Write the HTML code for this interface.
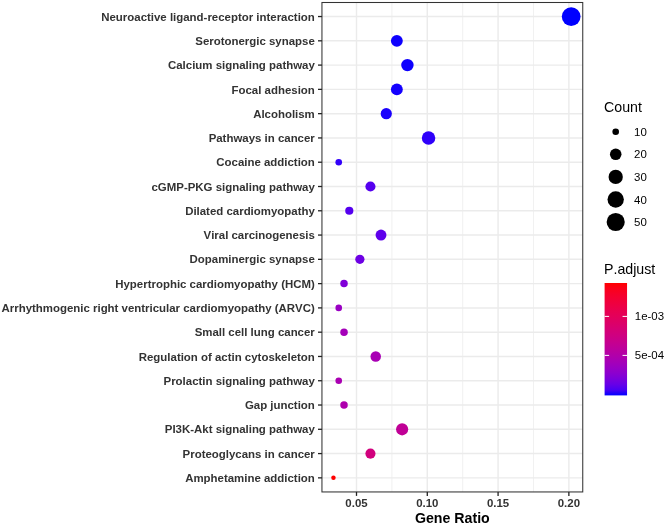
<!DOCTYPE html><html><head><meta charset="utf-8"><style>html,body{margin:0;padding:0;background:#fff;width:666px;height:525px;overflow:hidden}svg{display:block;will-change:transform}text{font-family:"Liberation Sans",sans-serif;font-kerning:none;font-feature-settings:"kern" 0,"liga" 0}</style></head><body>
<svg width="666" height="525" viewBox="0 0 666 525">
<rect width="666" height="525" fill="#fff"/>
<line x1="391.89" y1="2.5" x2="391.89" y2="491.95" stroke="#ebebeb" stroke-width="0.75"/>
<line x1="462.69" y1="2.5" x2="462.69" y2="491.95" stroke="#ebebeb" stroke-width="0.75"/>
<line x1="533.47" y1="2.5" x2="533.47" y2="491.95" stroke="#ebebeb" stroke-width="0.75"/>
<line x1="356.50" y1="2.5" x2="356.50" y2="491.95" stroke="#ebebeb" stroke-width="1.45"/>
<line x1="427.29" y1="2.5" x2="427.29" y2="491.95" stroke="#ebebeb" stroke-width="1.45"/>
<line x1="498.08" y1="2.5" x2="498.08" y2="491.95" stroke="#ebebeb" stroke-width="1.45"/>
<line x1="568.87" y1="2.5" x2="568.87" y2="491.95" stroke="#ebebeb" stroke-width="1.45"/>
<line x1="321.95" y1="16.54" x2="582.75" y2="16.54" stroke="#ebebeb" stroke-width="1.45"/>
<line x1="321.95" y1="40.82" x2="582.75" y2="40.82" stroke="#ebebeb" stroke-width="1.45"/>
<line x1="321.95" y1="65.10" x2="582.75" y2="65.10" stroke="#ebebeb" stroke-width="1.45"/>
<line x1="321.95" y1="89.38" x2="582.75" y2="89.38" stroke="#ebebeb" stroke-width="1.45"/>
<line x1="321.95" y1="113.66" x2="582.75" y2="113.66" stroke="#ebebeb" stroke-width="1.45"/>
<line x1="321.95" y1="137.94" x2="582.75" y2="137.94" stroke="#ebebeb" stroke-width="1.45"/>
<line x1="321.95" y1="162.22" x2="582.75" y2="162.22" stroke="#ebebeb" stroke-width="1.45"/>
<line x1="321.95" y1="186.50" x2="582.75" y2="186.50" stroke="#ebebeb" stroke-width="1.45"/>
<line x1="321.95" y1="210.78" x2="582.75" y2="210.78" stroke="#ebebeb" stroke-width="1.45"/>
<line x1="321.95" y1="235.06" x2="582.75" y2="235.06" stroke="#ebebeb" stroke-width="1.45"/>
<line x1="321.95" y1="259.34" x2="582.75" y2="259.34" stroke="#ebebeb" stroke-width="1.45"/>
<line x1="321.95" y1="283.62" x2="582.75" y2="283.62" stroke="#ebebeb" stroke-width="1.45"/>
<line x1="321.95" y1="307.90" x2="582.75" y2="307.90" stroke="#ebebeb" stroke-width="1.45"/>
<line x1="321.95" y1="332.18" x2="582.75" y2="332.18" stroke="#ebebeb" stroke-width="1.45"/>
<line x1="321.95" y1="356.46" x2="582.75" y2="356.46" stroke="#ebebeb" stroke-width="1.45"/>
<line x1="321.95" y1="380.74" x2="582.75" y2="380.74" stroke="#ebebeb" stroke-width="1.45"/>
<line x1="321.95" y1="405.02" x2="582.75" y2="405.02" stroke="#ebebeb" stroke-width="1.45"/>
<line x1="321.95" y1="429.30" x2="582.75" y2="429.30" stroke="#ebebeb" stroke-width="1.45"/>
<line x1="321.95" y1="453.58" x2="582.75" y2="453.58" stroke="#ebebeb" stroke-width="1.45"/>
<line x1="321.95" y1="477.86" x2="582.75" y2="477.86" stroke="#ebebeb" stroke-width="1.45"/>
<circle cx="571.18" cy="16.54" r="9.38" fill="#0000ff"/>
<circle cx="396.85" cy="40.82" r="5.93" fill="#0e00fe"/>
<circle cx="407.42" cy="65.10" r="6.22" fill="#0e00fe"/>
<circle cx="396.85" cy="89.38" r="5.93" fill="#1400fe"/>
<circle cx="386.28" cy="113.66" r="5.61" fill="#1a00fd"/>
<circle cx="428.55" cy="137.94" r="6.76" fill="#2f00fa"/>
<circle cx="338.74" cy="162.22" r="3.31" fill="#3200fa"/>
<circle cx="370.44" cy="186.50" r="5.06" fill="#5500ef"/>
<circle cx="349.30" cy="210.78" r="4.09" fill="#5500ef"/>
<circle cx="381.00" cy="235.06" r="5.44" fill="#5e00eb"/>
<circle cx="359.87" cy="259.34" r="4.62" fill="#6d00e4"/>
<circle cx="344.02" cy="283.62" r="3.75" fill="#8000d8"/>
<circle cx="338.74" cy="307.90" r="3.31" fill="#9a00c3"/>
<circle cx="344.02" cy="332.18" r="3.75" fill="#a400b9"/>
<circle cx="375.72" cy="356.46" r="5.25" fill="#a800b4"/>
<circle cx="338.74" cy="380.74" r="3.31" fill="#aa00b2"/>
<circle cx="344.02" cy="405.02" r="3.75" fill="#ae00ad"/>
<circle cx="402.13" cy="429.30" r="6.08" fill="#c00096"/>
<circle cx="370.44" cy="453.58" r="5.06" fill="#d1007d"/>
<circle cx="333.46" cy="477.86" r="2.25" fill="#ff0000"/>
<rect x="321.95" y="2.5" width="260.80" height="489.45" fill="none" stroke="#333" stroke-width="1.05"/>
<line x1="318.0" y1="16.54" x2="321.95" y2="16.54" stroke="#222" stroke-width="1.3"/>
<text transform="translate(314.8 20.69) scale(1 1.0)" text-anchor="end" font-size="11.45" font-weight="bold" fill="#333333">Neuroactive ligand-receptor interaction</text>
<line x1="318.0" y1="40.82" x2="321.95" y2="40.82" stroke="#222" stroke-width="1.3"/>
<text transform="translate(314.8 44.97) scale(1 1.0)" text-anchor="end" font-size="11.45" font-weight="bold" fill="#333333">Serotonergic synapse</text>
<line x1="318.0" y1="65.10" x2="321.95" y2="65.10" stroke="#222" stroke-width="1.3"/>
<text transform="translate(314.8 69.25) scale(1 1.0)" text-anchor="end" font-size="11.45" font-weight="bold" fill="#333333">Calcium signaling pathway</text>
<line x1="318.0" y1="89.38" x2="321.95" y2="89.38" stroke="#222" stroke-width="1.3"/>
<text transform="translate(314.8 93.53) scale(1 1.0)" text-anchor="end" font-size="11.45" font-weight="bold" fill="#333333">Focal adhesion</text>
<line x1="318.0" y1="113.66" x2="321.95" y2="113.66" stroke="#222" stroke-width="1.3"/>
<text transform="translate(314.8 117.81) scale(1 1.0)" text-anchor="end" font-size="11.45" font-weight="bold" fill="#333333">Alcoholism</text>
<line x1="318.0" y1="137.94" x2="321.95" y2="137.94" stroke="#222" stroke-width="1.3"/>
<text transform="translate(314.8 142.09) scale(1 1.0)" text-anchor="end" font-size="11.45" font-weight="bold" fill="#333333">Pathways in cancer</text>
<line x1="318.0" y1="162.22" x2="321.95" y2="162.22" stroke="#222" stroke-width="1.3"/>
<text transform="translate(314.8 166.37) scale(1 1.0)" text-anchor="end" font-size="11.45" font-weight="bold" fill="#333333">Cocaine addiction</text>
<line x1="318.0" y1="186.50" x2="321.95" y2="186.50" stroke="#222" stroke-width="1.3"/>
<text transform="translate(314.8 190.65) scale(1 1.0)" text-anchor="end" font-size="11.45" font-weight="bold" fill="#333333">cGMP-PKG signaling pathway</text>
<line x1="318.0" y1="210.78" x2="321.95" y2="210.78" stroke="#222" stroke-width="1.3"/>
<text transform="translate(314.8 214.93) scale(1 1.0)" text-anchor="end" font-size="11.45" font-weight="bold" fill="#333333">Dilated cardiomyopathy</text>
<line x1="318.0" y1="235.06" x2="321.95" y2="235.06" stroke="#222" stroke-width="1.3"/>
<text transform="translate(314.8 239.21) scale(1 1.0)" text-anchor="end" font-size="11.45" font-weight="bold" fill="#333333">Viral carcinogenesis</text>
<line x1="318.0" y1="259.34" x2="321.95" y2="259.34" stroke="#222" stroke-width="1.3"/>
<text transform="translate(314.8 263.49) scale(1 1.0)" text-anchor="end" font-size="11.45" font-weight="bold" fill="#333333">Dopaminergic synapse</text>
<line x1="318.0" y1="283.62" x2="321.95" y2="283.62" stroke="#222" stroke-width="1.3"/>
<text transform="translate(314.8 287.77) scale(1 1.0)" text-anchor="end" font-size="11.45" font-weight="bold" fill="#333333">Hypertrophic cardiomyopathy (HCM)</text>
<line x1="318.0" y1="307.90" x2="321.95" y2="307.90" stroke="#222" stroke-width="1.3"/>
<text transform="translate(314.8 312.05) scale(1 1.0)" text-anchor="end" font-size="11.45" font-weight="bold" fill="#333333">Arrhythmogenic right ventricular cardiomyopathy (ARVC)</text>
<line x1="318.0" y1="332.18" x2="321.95" y2="332.18" stroke="#222" stroke-width="1.3"/>
<text transform="translate(314.8 336.33) scale(1 1.0)" text-anchor="end" font-size="11.45" font-weight="bold" fill="#333333">Small cell lung cancer</text>
<line x1="318.0" y1="356.46" x2="321.95" y2="356.46" stroke="#222" stroke-width="1.3"/>
<text transform="translate(314.8 360.61) scale(1 1.0)" text-anchor="end" font-size="11.45" font-weight="bold" fill="#333333">Regulation of actin cytoskeleton</text>
<line x1="318.0" y1="380.74" x2="321.95" y2="380.74" stroke="#222" stroke-width="1.3"/>
<text transform="translate(314.8 384.89) scale(1 1.0)" text-anchor="end" font-size="11.45" font-weight="bold" fill="#333333">Prolactin signaling pathway</text>
<line x1="318.0" y1="405.02" x2="321.95" y2="405.02" stroke="#222" stroke-width="1.3"/>
<text transform="translate(314.8 409.17) scale(1 1.0)" text-anchor="end" font-size="11.45" font-weight="bold" fill="#333333">Gap junction</text>
<line x1="318.0" y1="429.30" x2="321.95" y2="429.30" stroke="#222" stroke-width="1.3"/>
<text transform="translate(314.8 433.45) scale(1 1.0)" text-anchor="end" font-size="11.45" font-weight="bold" fill="#333333">PI3K-Akt signaling pathway</text>
<line x1="318.0" y1="453.58" x2="321.95" y2="453.58" stroke="#222" stroke-width="1.3"/>
<text transform="translate(314.8 457.73) scale(1 1.0)" text-anchor="end" font-size="11.45" font-weight="bold" fill="#333333">Proteoglycans in cancer</text>
<line x1="318.0" y1="477.86" x2="321.95" y2="477.86" stroke="#222" stroke-width="1.3"/>
<text transform="translate(314.8 482.01) scale(1 1.0)" text-anchor="end" font-size="11.45" font-weight="bold" fill="#333333">Amphetamine addiction</text>
<line x1="356.50" y1="491.95" x2="356.50" y2="495.9" stroke="#222" stroke-width="1.3"/>
<text x="356.50" y="507" text-anchor="middle" font-size="11.45" font-weight="bold" fill="#333333">0.05</text>
<line x1="427.29" y1="491.95" x2="427.29" y2="495.9" stroke="#222" stroke-width="1.3"/>
<text x="427.29" y="507" text-anchor="middle" font-size="11.45" font-weight="bold" fill="#333333">0.10</text>
<line x1="498.08" y1="491.95" x2="498.08" y2="495.9" stroke="#222" stroke-width="1.3"/>
<text x="498.08" y="507" text-anchor="middle" font-size="11.45" font-weight="bold" fill="#333333">0.15</text>
<line x1="568.87" y1="491.95" x2="568.87" y2="495.9" stroke="#222" stroke-width="1.3"/>
<text x="568.87" y="507" text-anchor="middle" font-size="11.45" font-weight="bold" fill="#333333">0.20</text>
<text x="452.35" y="522.6" text-anchor="middle" font-size="14.2" font-weight="bold" fill="#000">Gene Ratio</text>
<text x="604.0" y="111.6" font-size="14.2" fill="#000">Count</text>
<circle cx="615.7" cy="131.7" r="3.31" fill="#000"/>
<text x="634.1" y="135.80" font-size="11.45" fill="#000">10</text>
<circle cx="615.7" cy="154.3" r="5.77" fill="#000"/>
<text x="634.1" y="158.40" font-size="11.45" fill="#000">20</text>
<circle cx="615.7" cy="176.9" r="7.12" fill="#000"/>
<text x="634.1" y="181.00" font-size="11.45" fill="#000">30</text>
<circle cx="615.7" cy="199.5" r="8.16" fill="#000"/>
<text x="634.1" y="203.60" font-size="11.45" fill="#000">40</text>
<circle cx="615.7" cy="222.0" r="9.05" fill="#000"/>
<text x="634.1" y="226.10" font-size="11.45" fill="#000">50</text>
<text x="604.0" y="273.7" font-size="14.2" fill="#000">P.adjust</text>
<defs><linearGradient id="cg" x1="0" y1="1" x2="0" y2="0">
<stop offset="0.000" stop-color="#0000ff"/>
<stop offset="0.050" stop-color="#4b00f3"/>
<stop offset="0.100" stop-color="#6800e7"/>
<stop offset="0.150" stop-color="#7c00da"/>
<stop offset="0.200" stop-color="#8d00ce"/>
<stop offset="0.250" stop-color="#9a00c3"/>
<stop offset="0.300" stop-color="#a600b7"/>
<stop offset="0.350" stop-color="#b000ab"/>
<stop offset="0.400" stop-color="#ba009f"/>
<stop offset="0.450" stop-color="#c20094"/>
<stop offset="0.500" stop-color="#ca0088"/>
<stop offset="0.550" stop-color="#d1007d"/>
<stop offset="0.600" stop-color="#d70072"/>
<stop offset="0.650" stop-color="#dd0066"/>
<stop offset="0.700" stop-color="#e3005b"/>
<stop offset="0.750" stop-color="#e80050"/>
<stop offset="0.800" stop-color="#ed0044"/>
<stop offset="0.850" stop-color="#f20037"/>
<stop offset="0.900" stop-color="#f6002a"/>
<stop offset="0.950" stop-color="#fb001a"/>
<stop offset="1.000" stop-color="#ff0000"/>
</linearGradient></defs>
<rect x="604.6" y="283.0" width="22.45" height="112.40" fill="url(#cg)"/>
<line x1="604.6" y1="316.4" x2="609.1" y2="316.4" stroke="#fff" stroke-width="1"/>
<line x1="622.55" y1="316.4" x2="627.05" y2="316.4" stroke="#fff" stroke-width="1"/>
<text x="634.8" y="320.30" font-size="11.45" fill="#000">1e-03</text>
<line x1="604.6" y1="355.4" x2="609.1" y2="355.4" stroke="#fff" stroke-width="1"/>
<line x1="622.55" y1="355.4" x2="627.05" y2="355.4" stroke="#fff" stroke-width="1"/>
<text x="634.8" y="359.30" font-size="11.45" fill="#000">5e-04</text>
</svg></body></html>
